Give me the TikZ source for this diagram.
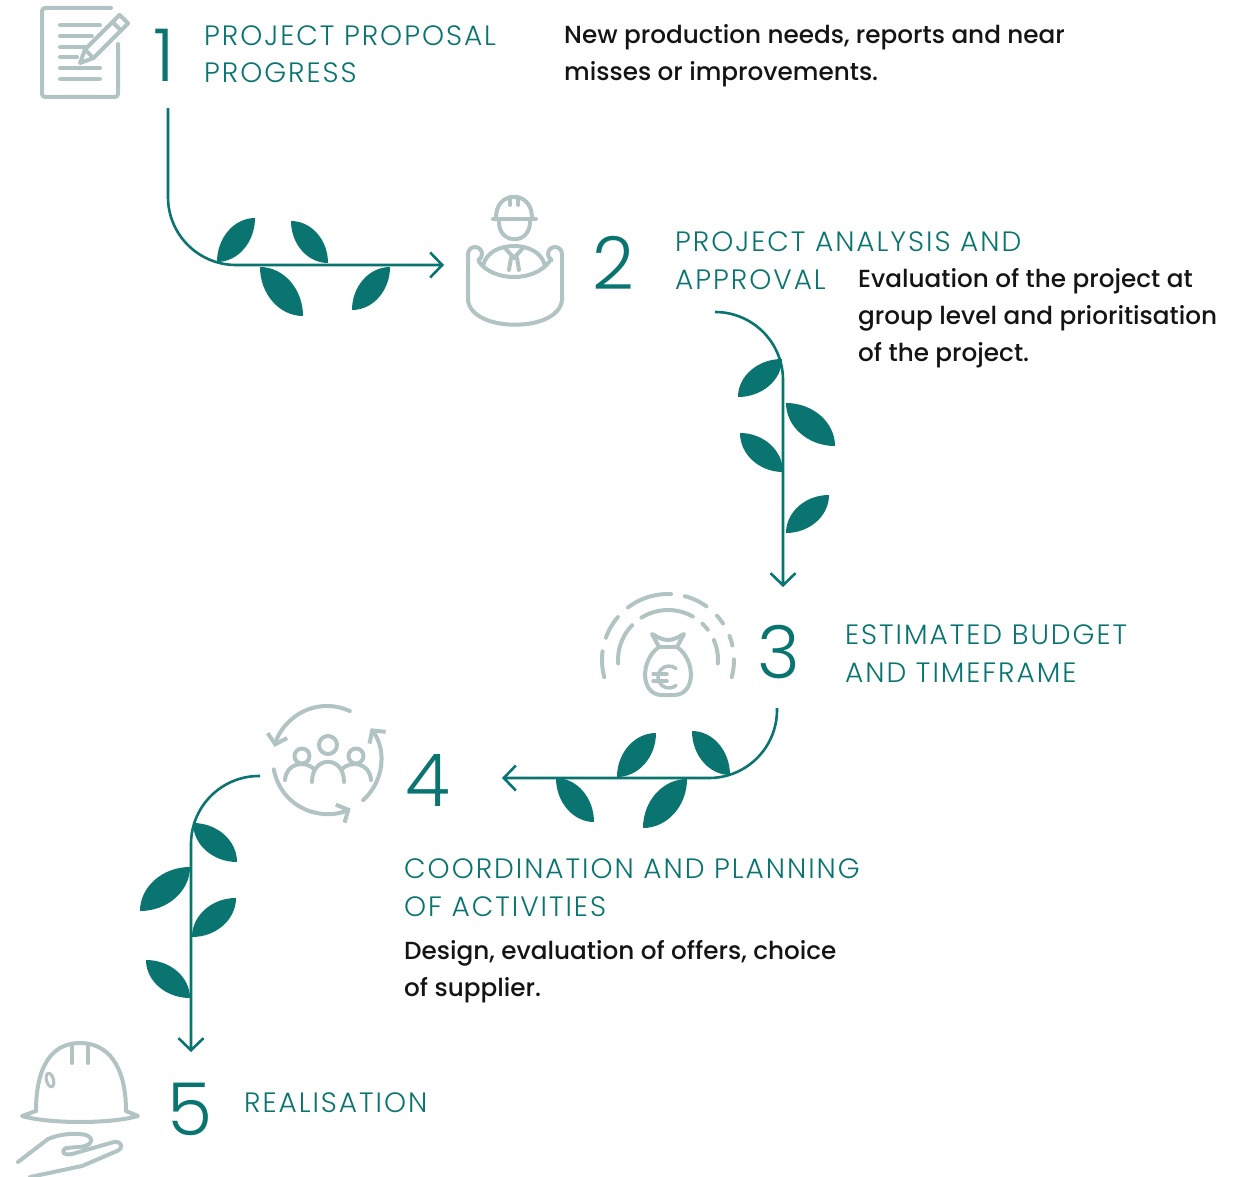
\documentclass[tikz,border=0pt]{standalone}
\usepackage{fontspec}
\setmainfont{Poppins}[UprightFont={* Medium}]
\newfontfamily\thinfont{Poppins}[UprightFont={* Light}, LetterSpace=7]
\newfontfamily\digitfont{Poppins}[UprightFont={* Light}]
\usetikzlibrary{arrows.meta,calc}

\definecolor{brandteal}{HTML}{0A7570}
\definecolor{icongray}{HTML}{B1C4C3}
\definecolor{ink}{HTML}{141414}

% leaf between two opposite corners (x1,y1) and (x2,y2)
\newcommand\leafshape[4]{%
  \fill[leaf] (#1,#2) .. controls (#1,{#2+0.55*(#4-#2)}) and ({#3+0.55*(#1-#3)},#4) .. (#3,#4)
    .. controls (#3,{#4+0.55*(#2-#4)}) and ({#1+0.55*(#3-#1)},#2) .. (#1,#2) -- cycle;}

\tikzset{
  stem/.style={draw=brandteal, line width=2.6pt, rounded corners=68pt,
    -{Straight Barb[length=12pt,width=25pt,line width=2.6pt]}},
  leaf/.style={fill=brandteal},
  icon/.style={draw=icongray, line width=4pt, line cap=round, line join=round},
  iconarrow/.style={icon, -{Straight Barb[length=9pt,width=20pt,line width=4pt]}},
  digit/.style={text=brandteal, font=\digitfont\fontsize{73}{73}\selectfont, inner sep=0pt, anchor=base},
  title/.style={text=brandteal, font=\thinfont\fontsize{28}{37.5}\selectfont, inner sep=0pt, anchor=base west, align=left},
  body/.style={text=ink, font=\fontsize{24.7}{37}\selectfont, inner sep=0pt, anchor=base west, align=left},
}

\begin{document}
\begin{tikzpicture}[x=1pt, y=-1pt]
\useasboundingbox (0,0) rectangle (1245,1177);
\fill[white] (0,0) rectangle (1245,1177);

% multi-line labels are placed by the baseline of their last line

% ---------- step 1: document with pencil ----------
\draw[icon, rounded corners=3pt] (111,8) -- (42,8) -- (42,97) -- (118,97) -- (118,44);
\draw[icon] (60,25) -- (100,25);
\draw[icon] (60,36) -- (92,36);
\draw[icon] (60,47) -- (85,47);
\draw[icon] (60,57) -- (77,57);
\draw[icon] (60,68) -- (100,68);
\draw[icon] (60,79) -- (100,79);
\begin{scope}[shift={(80,63)}, rotate=45]
  \draw[icon] (0,0) -- (13,-6) -- (62,-6) -- (62,6) -- (13,6) -- cycle;
  \draw[icon] (13,-6) -- (13,6);
  \draw[icon] (52,-6) -- (52,6);
\end{scope}
\node[digit] (n1) at (164,82) {1};
\node[title] (t1) at (204,83) {PROJECT PROPOSAL\\PROGRESS};
\node[body] (d1) at (564,81) {New production needs, reports and near\\misses or improvements.};

% ---------- step 2: engineer behind a plan ----------
% helmet
\draw[icon] (496,218) .. controls (496,204) and (504,197) .. (514,197) .. controls (524,197) and (532,204) .. (532,218);
\draw[icon] (493,219) -- (536,219);
\draw[icon] (510,197) -- (510,205);
\draw[icon] (518,197) -- (518,205);
% face and shoulders
\draw[icon] (499,222) .. controls (499,245) and (530,245) .. (530,222);
\draw[icon] (483,266) .. controls (486,252) and (500,246) .. (514,246) .. controls (528,246) and (542,252) .. (545,266);
% collar and tie
\draw[icon] (505,248) -- (514,258) -- (523,248);
\draw[icon] (511,258) -- (509,270);
\draw[icon] (517,258) -- (519,270);
% rolled plan
\draw[icon] (468,300) -- (468,254) arc[start angle=180, end angle=420, radius=7];
\draw[icon] (562,300) -- (562,254) arc[start angle=0, end angle=-240, radius=7];
\draw[icon] (479,262) .. controls (494,282) and (534,282) .. (549,262);
\draw[icon] (468,300) .. controls (471,333) and (559,333) .. (562,300);
\node[digit] (n2) at (613,289) {2};
\node[title] (t2) at (675,289) {PROJECT ANALYSIS AND\\APPROVAL};
\node[body] (d2) at (858,361) {Evaluation of the project at\\group level and prioritisation\\of the project.};

% ---------- step 3: money bag ----------
\draw[icon, dash pattern=on 26pt off 14pt on 24pt off 14pt on 46pt off 14pt on 24pt off 14pt on 10pt off 14pt on 10pt off 14pt on 22pt off 30pt]
  (668,660) ++(165:66) arc[start angle=165, end angle=375, radius=66];
\draw[icon, dash pattern=on 42pt off 12pt on 54pt off 12pt on 8pt off 12pt on 26pt off 30pt]
  (668,660) ++(176:50) arc[start angle=176, end angle=364, radius=50];
\draw[icon] (659,647) .. controls (640,660) and (640,695) .. (662,695) -- (674,695)
  .. controls (696,695) and (696,660) .. (677,647);
\draw[icon] (659,647) -- (677,647);
\draw[icon] (659,647) -- (652,634) .. controls (658,637) and (662,640) .. (668,640)
  .. controls (674,640) and (678,637) .. (684,634) -- (677,647);
\draw[icon, line width=3.5pt] (669,677) ++(-50:11) arc[start angle=-50, end angle=-310, radius=11];
\draw[icon, line width=3.5pt] (653,674) -- (667,674);
\draw[icon, line width=3.5pt] (653,681) -- (667,681);
\node[digit] (n3) at (779,678) {3};
\node[title] (t3) at (845,682) {ESTIMATED BUDGET\\AND TIMEFRAME};

% ---------- step 4: team in a cycle ----------
\draw[iconarrow] (327,760) ++(-65:54) arc[start angle=-65, end angle=-166, radius=54];
\draw[iconarrow] (327,760) ++(48:54) arc[start angle=48, end angle=-36, radius=54];
\draw[iconarrow] (327,760) ++(170:54) arc[start angle=170, end angle=64, radius=54];
\draw[icon] (302,756) circle[radius=7.5];
\draw[icon] (328,745) circle[radius=9];
\draw[icon] (356,756) circle[radius=7.5];
\draw[icon] (312,782) .. controls (312,755) and (344,755) .. (344,782);
\draw[icon] (285,780) .. controls (286,763) and (305,760) .. (314,769);
\draw[icon] (371,780) .. controls (370,763) and (351,760) .. (342,769);
\node[digit] (n4) at (428,806) {4};
\node[title] (t4) at (404,916) {COORDINATION AND PLANNING\\OF ACTIVITIES};
\node[body] (d4) at (404,996) {Design, evaluation of offers, choice\\of supplier.};

% ---------- step 5: helmet held in a hand ----------
\draw[icon] (36,1111) .. controls (36,1066) and (52,1043) .. (80,1043) .. controls (108,1043) and (126,1066) .. (126,1111);
\draw[icon] (36,1111) -- (22,1116) .. controls (50,1124) and (110,1124) .. (138,1116) -- (126,1111);
\draw[icon] (72,1044) -- (72,1063);
\draw[icon] (88,1044) -- (88,1063);
\draw[icon, line width=3pt, rotate around={15:(50,1080)}] (50,1080) ellipse[x radius=3.5, y radius=7];
\draw[icon] (18,1162) -- (48,1139) .. controls (62,1133) and (78,1133) .. (86,1135)
  .. controls (95,1138) and (92,1147) .. (78,1147) -- (66,1148)
  .. controls (60,1152) and (64,1156) .. (72,1154) -- (114,1142)
  .. controls (122,1141) and (124,1148) .. (117,1151) -- (82,1166) -- (30,1177);
\node[digit] (n5) at (190,1135) {5};
\node[title] (t5) at (244,1112) {REALISATION};

% ---------- growing connectors ----------
\coordinate (s1) at (168,108); \coordinate (e1) at (444,265);
\coordinate (s2) at (715,312); \coordinate (e2) at (783,587);
\coordinate (s3) at (777,708); \coordinate (e3) at (502,778);
\coordinate (s4) at (260,776); \coordinate (e4) at (191,1052);

\leafshape{217}{262}{255}{218}
\leafshape{291}{221}{328}{263}
\leafshape{260}{267}{303}{316}
\leafshape{390}{267}{352}{310}

\leafshape{738}{397}{782}{359}
\leafshape{786}{403}{835}{446}
\leafshape{740}{433}{783}{472}
\leafshape{786}{533}{829}{495}

\leafshape{617}{777}{656}{733}
\leafshape{692}{731}{730}{775}
\leafshape{556}{778}{594}{822}
\leafshape{687}{779}{643}{828}

\leafshape{193}{823}{237}{862}
\leafshape{140}{911}{190}{867}
\leafshape{192}{937}{236}{898}
\leafshape{146}{960}{190}{998}

\draw[stem] (s1) |- (e1);
\draw[stem] (s2) -| (e2);
\draw[stem] (s3) |- (e3);
\draw[stem] (s4) -| (e4);
\end{tikzpicture}
\end{document}
